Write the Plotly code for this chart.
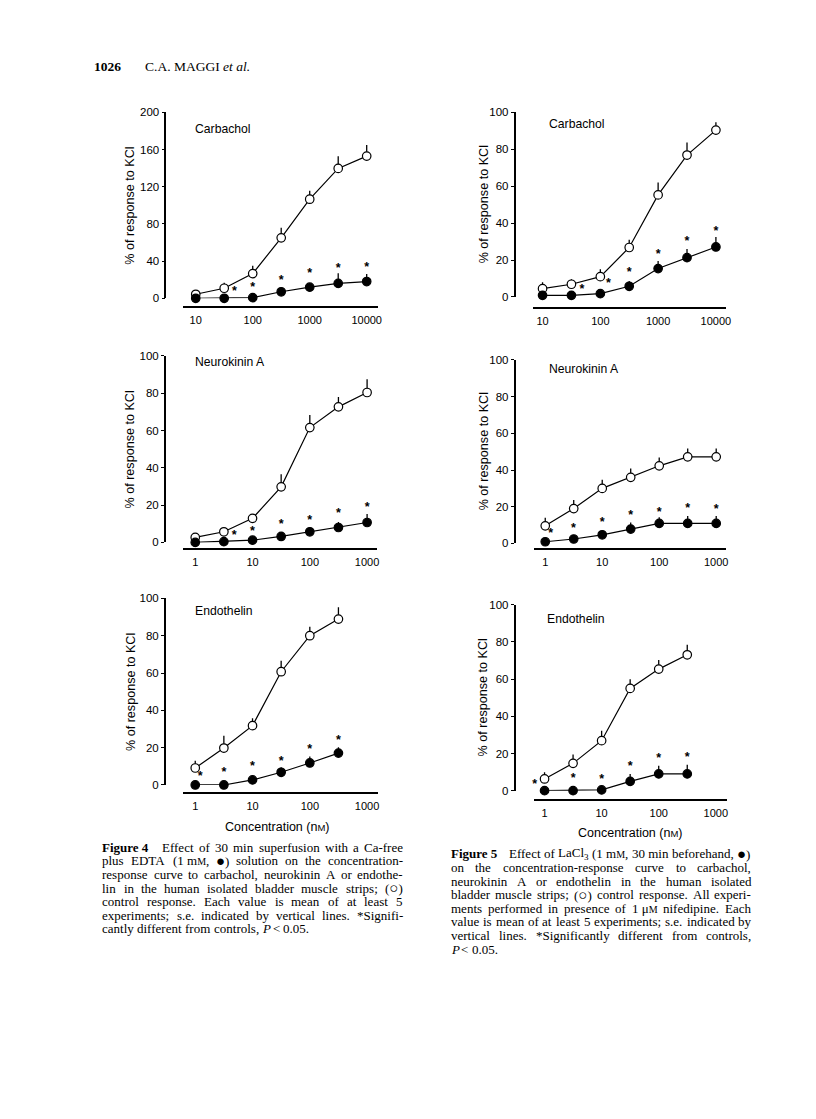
import math
import re
import plotly.graph_objects as go

W, H = 816, 1119

# ---------------- data ----------------
carb_conc = [10, 31.6, 100, 316, 1000, 3162, 10000]
nka_conc = [1, 3.16, 10, 31.6, 100, 316, 1000]
et_conc = [1, 3.16, 10, 31.6, 100, 316]

# Figure 4 (Ca-free + EDTA)
f4_carb_ctrl = [4.3, 10.8, 26.6, 65, 106.6, 139.7, 153]
f4_carb_ctrl_se = [0, 6, 8.5, 11, 9, 13, 12]
f4_carb_trt = [0, 0, 0.7, 7, 12, 16, 18]
f4_carb_trt_se = [0, 0, 0, 4.5, 4, 11, 8]
f4_carb_star_x = [48, 100, 316, 1000, 3162, 10000]
f4_carb_star_y = [7, 11.5, 19, 26, 32, 33]

f4_nka_ctrl = [2.7, 5.7, 12.9, 29.8, 61.6, 72.7, 80.4]
f4_nka_ctrl_se = [0, 0, 2.1, 6.8, 6.8, 5.3, 7.1]
f4_nka_trt = [0, 0.4, 1.2, 3.2, 5.7, 8, 10.7]
f4_nka_trt_se = [0, 0, 0, 2.2, 2.3, 3, 4.5]
f4_nka_star_x = [4.8, 10, 31.6, 100, 316, 1000]
f4_nka_star_y = [3.6, 5.9, 9.3, 11.6, 15.2, 18.75]

f4_et_ctrl = [9.1, 19.8, 31.8, 60.7, 80, 88.9]
f4_et_ctrl_se = [3.9, 6.6, 3.9, 5.9, 4.8, 6.3]
f4_et_trt = [0, 0, 2.7, 6.8, 11.8, 17.1]
f4_et_trt_se = [0, 0, 2.3, 2.7, 3.4, 3.1]
f4_et_star_x = [1.22, 3.16, 10, 31.6, 100, 316]
f4_et_star_y = [4.1, 6.25, 9.5, 12.5, 18.75, 23.4]

# Figure 5 (LaCl3)
f5_carb_ctrl = [4.5, 6.9, 11, 26.8, 55.3, 76.9, 90.4]
f5_carb_ctrl_se = [3.5, 2.7, 4, 4.2, 6.7, 6.8, 4.2]
f5_carb_trt = [0.9, 0.9, 1.8, 5.8, 15.4, 21.3, 27.1]
f5_carb_trt_se = [0, 0, 0, 2.9, 4.1, 4.7, 5.4]
f5_carb_star_x = [48, 138, 316, 1000, 3162, 10000]
f5_carb_star_y = [3.8, 7, 12.8, 23, 30, 35.4]

f5_nka_ctrl = [9.6, 19, 30, 36, 42.3, 47.2, 47.2]
f5_nka_ctrl_se = [4.4, 4.6, 4.7, 4.8, 4.5, 4.5, 4.5]
f5_nka_trt = [0.9, 2.4, 4.7, 7.8, 10.9, 10.9, 10.9]
f5_nka_trt_se = [0, 0, 2.2, 3.6, 3.3, 4.1, 4.1]
f5_nka_star_x = [1.24, 3.13, 10, 31.6, 100, 316, 1000]
f5_nka_star_y = [5.1, 7.8, 11.4, 15, 16.9, 18.7, 18.1]

f5_et_ctrl = [6.3, 14.7, 26.9, 55, 65.4, 73.1]
f5_et_ctrl_se = [3.6, 4.7, 5.4, 5, 4.9, 5.4]
f5_et_trt = [0, 0, 0.4, 5, 9, 9]
f5_et_trt_se = [0, 0, 0, 4, 4.4, 5]
f5_et_star_x = [0.67, 3.16, 10, 31.6, 100, 316]
f5_et_star_y = [3.2, 6.3, 5.7, 12.9, 17, 17.9]

carb_ticks = [10, 100, 1000, 10000]
carb_ticktext = ["10", "100", "1000", "10000"]
nm_ticks = [1, 10, 100, 1000]
nm_ticktext = ["1", "10", "100", "1000"]
y200_ticks = [0, 40, 80, 120, 160, 200]
y100_ticks = [0, 20, 40, 60, 80, 100]

panel_titles = ["Carbachol", "Carbachol", "Neurokinin A", "Neurokinin A", "Endothelin", "Endothelin"]
y_label = "% of response to KCl"
x_label = "Concentration (n<span style='font-size:9.5px'>M</span>)"

# placeholders used inside caption words (restored after splitting)
SMALL_M = "<span style='font-size:10px'>M</span>"
BIG_FILLED = "<span style='font-size:15px'>●</span>"
BIG_OPEN = "<span style='font-size:15px'>○</span>"
PH, PF, PO = "\x01", "\x03", "\x04"
cap4 = [
    "<b>Figure&nbsp;4</b> Effect of 30 min superfusion with a Ca-free",
    f"plus EDTA (1&nbsp;m{PH}, {PF}) solution on the concentration-",
    "response curve to carbachol, neurokinin A or endothe-",
    f"lin in the human isolated bladder muscle strips; ({PO})",
    "control response. Each value is mean of at least 5",
    "experiments; s.e. indicated by vertical lines. *Signifi-",
    "cantly different from controls, <i>P</i> < 0.05.",
]
cap5 = [
    f"<b>Figure&nbsp;5</b> Effect of LaCl<sub>3</sub> (1&nbsp;m{PH}, 30&nbsp;min beforehand, {PF})",
    "on the concentration-response curve to carbachol,",
    "neurokinin A or endothelin in the human isolated",
    f"bladder muscle strips; ({PO}) control response. All experi-",
    f"ments performed in presence of 1&nbsp;μ{PH} nifedipine. Each",
    "value is mean of at least 5 experiments; s.e. indicated by",
    "vertical lines. *Significantly different from controls,",
    "<i>P</i> < 0.05.",
]

# ---------------- layout helpers ----------------
def px(x):
    ox = -7 + 2.5 * (x - 100) / 600
    return (x + ox) / W


def py(y):
    oy = -14 + 9 * (y - 67) / 883
    return 1 - (y + oy) / H


SANS = "Liberation Sans, Arial, sans-serif"
SERIF = "Liberation Serif, Times New Roman, serif"
INK = "#000"

# Times-compatible advance widths (em) for justification
TW = {}
for c, w in zip("abcdefghijklmnopqrstuvwxyz",
                [.444, .5, .444, .5, .444, .333, .5, .5, .278, .278, .5, .278, .778, .5, .5, .5, .5, .333,
                 .389, .278, .5, .5, .722, .5, .5, .444]):
    TW[c] = w
for c, w in zip("ABCDEFGHIJKLMNOPQRSTUVWXYZ",
                [.722, .667, .667, .722, .611, .556, .722, .722, .333, .389, .722, .611, .889, .722, .722,
                 .556, .722, .667, .556, .611, .722, .722, .944, .722, .722, .611]):
    TW[c] = w
for c in "0123456789":
    TW[c] = .5
TW.update({" ": .25, ".": .25, ",": .25, ";": .278, ":": .278, "-": .333, "(": .333, ")": .333,
           "*": .5, "<": .564, "μ": .5, PH: .68, PF: .72, PO: .72, "\x02": .35})


def measure(word, fs):
    s = re.sub(r"<sub>(.*?)</sub>", lambda m: "\x02" * len(m.group(1)), word)
    bold = "<b>" in s
    s = re.sub(r"<[^>]+>", "", s).replace("&nbsp;", " ")
    w = sum(TW.get(c, .5) for c in s) * fs
    return w * (1.06 if bold else 1.0)


def restore(word):
    return word.replace(PH, SMALL_M).replace(PF, BIG_FILLED).replace(PO, BIG_OPEN)


def justified(lines, x_left, x_right, y0, dy, fs, first_extra):
    out = []
    for k, line in enumerate(lines):
        words = line.split(" ")
        widths = [measure(wd, fs) for wd in words]
        last = (k == len(lines) - 1)
        extra = first_extra if k == 0 else 0
        if last or len(words) == 1:
            gaps = [0.25 * fs] * (len(words) - 1)
            if k == 0 and gaps:
                gaps[0] += extra
        else:
            free = (x_right - x_left) - sum(widths) - extra
            g = free / (len(words) - 1)
            gaps = [g] * (len(words) - 1)
            gaps[0] += extra
        x = x_left
        for j, wd in enumerate(words):
            out.append(dict(text=restore(wd), xref="paper", yref="paper",
                            x=px(x), y=py(y0 + k * dy),
                            xanchor="left", yanchor="middle", showarrow=False, borderpad=0, borderwidth=0,
                            font=dict(family=SERIF, size=fs, color=INK)))
            if j < len(gaps):
                x += widths[j] + gaps[j]
    return out


panels = [
    dict(conc=carb_conc, ctrl=f4_carb_ctrl, cse=f4_carb_ctrl_se, trt=f4_carb_trt, tse=f4_carb_trt_se,
         sx=f4_carb_star_x, sy=f4_carb_star_y, ymax=200, yt=y200_ticks, xt=carb_ticks, xtt=carb_ticktext,
         yline=165, ytop=113, yzero=299, xline=308, xl=183, xr=378, t0=10, t0px=195.5, dec=57.1,
         title_xy=(193, 130), ylab_x=130, xlab=None),
    dict(conc=carb_conc, ctrl=f5_carb_ctrl, cse=f5_carb_ctrl_se, trt=f5_carb_trt, tse=f5_carb_trt_se,
         sx=f5_carb_star_x, sy=f5_carb_star_y, ymax=100, yt=y100_ticks, xt=carb_ticks, xtt=carb_ticktext,
         yline=515, ytop=113, yzero=297.7, xline=309, xl=533, xr=727, t0=10, t0px=543, dec=57.9,
         title_xy=(547, 125), ylab_x=484, xlab=None),
    dict(conc=nka_conc, ctrl=f4_nka_ctrl, cse=f4_nka_ctrl_se, trt=f4_nka_trt, tse=f4_nka_trt_se,
         sx=f4_nka_star_x, sy=f4_nka_star_y, ymax=100, yt=y100_ticks, xt=nm_ticks, xtt=nm_ticktext,
         yline=164.5, ytop=356.7, yzero=543.3, xline=550, xl=183, xr=377, t0=1, t0px=195, dec=57.4,
         title_xy=(193, 363), ylab_x=130, xlab=None),
    dict(conc=nka_conc, ctrl=f5_nka_ctrl, cse=f5_nka_ctrl_se, trt=f5_nka_trt, tse=f5_nka_trt_se,
         sx=f5_nka_star_x, sy=f5_nka_star_y, ymax=100, yt=y100_ticks, xt=nm_ticks, xtt=nm_ticktext,
         yline=515, ytop=360.7, yzero=544.3, xline=550, xl=534, xr=727, t0=1, t0px=545.7, dec=57.1,
         title_xy=(547, 370), ylab_x=484, xlab=None),
    dict(conc=et_conc, ctrl=f4_et_ctrl, cse=f4_et_ctrl_se, trt=f4_et_trt, tse=f4_et_trt_se,
         sx=f4_et_star_x, sy=f4_et_star_y, ymax=100, yt=y100_ticks, xt=nm_ticks, xtt=nm_ticktext,
         yline=164.5, ytop=599.3, yzero=786, xline=794, xl=183, xr=378, t0=1, t0px=195, dec=57.4,
         title_xy=(193, 612), ylab_x=130, xlab=(277, 828)),
    dict(conc=et_conc, ctrl=f5_et_ctrl, cse=f5_et_ctrl_se, trt=f5_et_trt, tse=f5_et_trt_se,
         sx=f5_et_star_x, sy=f5_et_star_y, ymax=100, yt=y100_ticks, xt=nm_ticks, xtt=nm_ticktext,
         yline=515, ytop=605.7, yzero=791.7, xline=801, xl=534, xr=728, t0=1, t0px=545, dec=57.2,
         title_xy=(545, 620), ylab_x=483, xlab=(631, 834)),
]

fig = go.Figure()
annotations = []
layout_axes = {}

for i, p in enumerate(panels):
    n = i + 1
    xa = "x" if n == 1 else f"x{n}"
    ya = "y" if n == 1 else f"y{n}"
    xkey = "xaxis" if n == 1 else f"xaxis{n}"
    ykey = "yaxis" if n == 1 else f"yaxis{n}"

    lg0 = math.log10(p["t0"])
    xr0 = lg0 - (p["t0px"] - p["xl"]) / p["dec"]
    xr1 = lg0 + (p["xr"] - p["t0px"]) / p["dec"]

    layout_axes[xkey] = dict(
        type="log", domain=[px(p["xl"]), px(p["xr"])], range=[xr0, xr1],
        anchor="free", position=py(p["xline"]),
        showline=True, linecolor=INK, linewidth=1.6, ticks="",
        tickvals=p["xt"], ticktext=p["xtt"], showgrid=False, zeroline=False,
        tickfont=dict(family=SANS, size=11, color=INK), ticklabelstandoff=3,
    )
    layout_axes[ykey] = dict(
        domain=[py(p["yzero"]), py(p["ytop"])], range=[0, p["ymax"]],
        anchor="free", position=px(p["yline"]),
        showline=True, linecolor=INK, linewidth=1.6, ticks="outside", ticklen=3,
        tickwidth=1.2, tickcolor=INK,
        tickvals=p["yt"], showgrid=False, zeroline=False,
        tickfont=dict(family=SANS, size=11.5, color=INK),
    )

    nn = len(p["conc"])
    fig.add_trace(go.Scatter(
        x=p["conc"], y=p["ctrl"], xaxis=xa, yaxis=ya, mode="lines+markers",
        line=dict(color=INK, width=1.2), cliponaxis=False,
        marker=dict(symbol="circle", size=8.5, color="white", line=dict(color=INK, width=1.2)),
        error_y=dict(type="data", symmetric=False, array=p["cse"], arrayminus=[0] * nn,
                     width=0, thickness=1.3, color=INK),
        showlegend=False,
    ))
    fig.add_trace(go.Scatter(
        x=p["conc"], y=p["trt"], xaxis=xa, yaxis=ya, mode="lines+markers",
        line=dict(color=INK, width=1.2), cliponaxis=False,
        marker=dict(symbol="circle", size=8.5, color=INK, line=dict(color=INK, width=1.2)),
        error_y=dict(type="data", symmetric=False, array=p["tse"], arrayminus=[0] * nn,
                     width=0, thickness=1.3, color=INK),
        showlegend=False,
    ))
    fig.add_trace(go.Scatter(
        x=p["sx"], y=p["sy"], xaxis=xa, yaxis=ya, mode="text", text=["*"] * len(p["sx"]),
        textposition="middle center", cliponaxis=False,
        textfont=dict(family=SANS, size=12.5, color=INK, weight="bold"), showlegend=False,
    ))

    tx, ty = p["title_xy"]
    annotations.append(dict(
        text=panel_titles[i], xref="paper", yref="paper", x=px(tx), y=py(ty),
        xanchor="left", yanchor="middle", showarrow=False,
        font=dict(family=SANS, size=12.2, color=INK),
    ))
    annotations.append(dict(
        text=y_label, xref="paper", yref="paper", x=px(p["ylab_x"]),
        y=py((p["ytop"] + p["yzero"]) / 2), textangle=-90,
        xanchor="center", yanchor="middle", showarrow=False,
        font=dict(family=SANS, size=12.6, color=INK),
    ))
    if p["xlab"]:
        annotations.append(dict(
            text=x_label, xref="paper", yref="paper", x=px(p["xlab"][0]), y=py(p["xlab"][1]),
            xanchor="center", yanchor="middle", showarrow=False,
            font=dict(family=SANS, size=12.5, color=INK),
        ))

# header
annotations.append(dict(text="<b>1026</b>", xref="paper", yref="paper", x=px(92), y=py(67),
                        xanchor="left", yanchor="middle", showarrow=False,
                        font=dict(family=SERIF, size=13.5, color=INK)))
annotations.append(dict(text="C.A. MAGGI <i>et al.</i>", xref="paper", yref="paper", x=px(143), y=py(67),
                        xanchor="left", yanchor="middle", showarrow=False,
                        font=dict(family=SERIF, size=13.5, color=INK)))

annotations += justified(cap4, 102, 403, 848.5, 13.55, 13, 8)
annotations += justified(cap5, 451, 752, 855, 13.6, 13, 8)

fig.update_layout(
    width=W, height=H, margin=dict(l=0, r=0, t=0, b=0),
    paper_bgcolor="white", plot_bgcolor="white",
    showlegend=False, annotations=annotations, **layout_axes,
)

fig.write_html("out.html")
